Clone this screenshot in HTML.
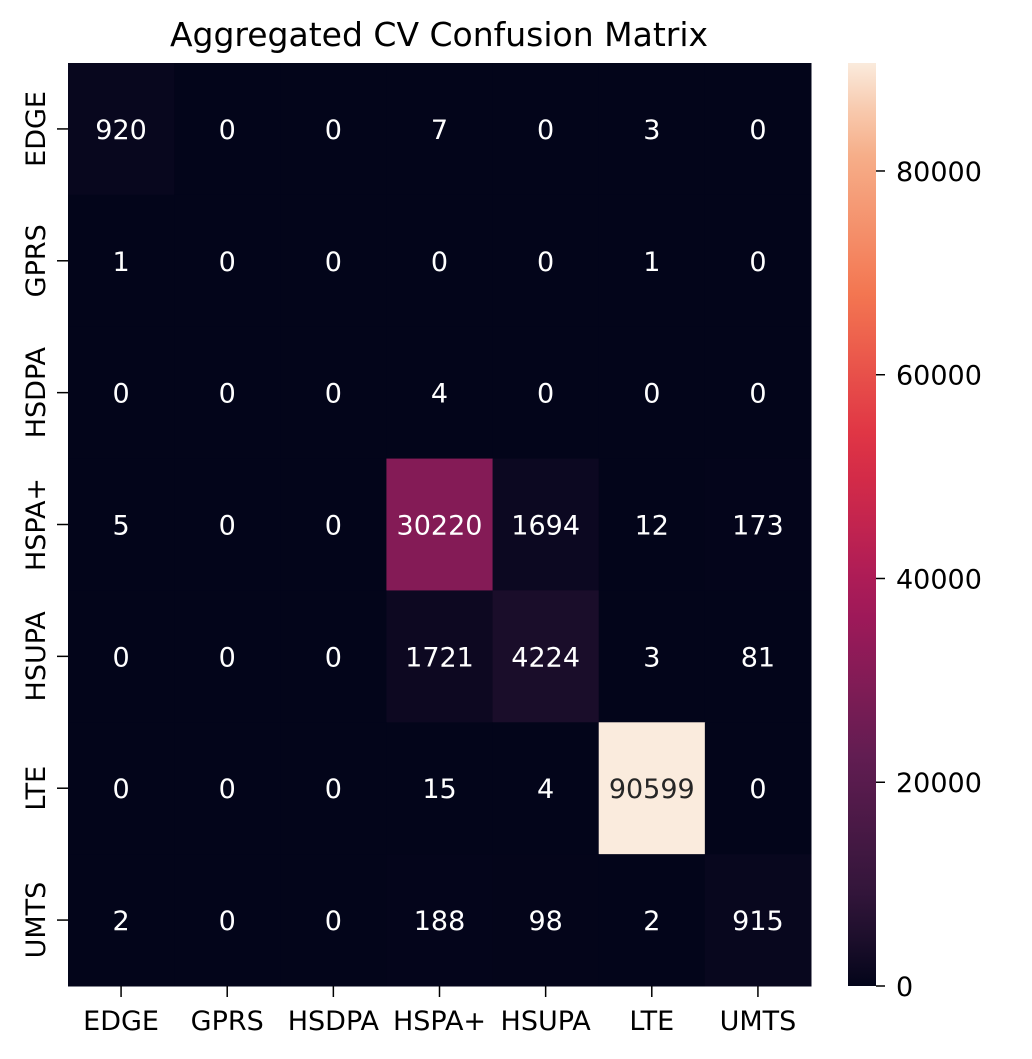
<!DOCTYPE html>
<html><head><meta charset="utf-8"><style>
body{margin:0;background:#fff;}
svg text{font-family:"DejaVu Sans","Liberation Sans",sans-serif;}
</style></head><body>
<svg id="chart" width="1032" height="1054" xmlns="http://www.w3.org/2000/svg">
<defs><linearGradient id="cbgrad" x1="0" y1="1" x2="0" y2="0"></linearGradient></defs>
<text x="439" y="46" font-size="33" text-anchor="middle" fill="#000">Aggregated CV Confusion Matrix</text>
<g id="cells"></g><g id="axes"></g>
</svg>
<script>
const rowLabels=["EDGE","GPRS","HSDPA","HSPA+","HSUPA","LTE","UMTS"];
const colLabels=["EDGE","GPRS","HSDPA","HSPA+","HSUPA","LTE","UMTS"];
const matrix=[
[920,0,0,7,0,3,0],
[1,0,0,0,0,1,0],
[0,0,0,4,0,0,0],
[5,0,0,30220,1694,12,173],
[0,0,0,1721,4224,3,81],
[0,0,0,15,4,90599,0],
[2,0,0,188,98,2,915]];
const cbTicks=[0,20000,40000,60000,80000];
const vmax=90599;
const L=68,R=811,T=63,B=986;
const cw=(R-L)/colLabels.length, rh=(B-T)/rowLabels.length;
const stops=[[0,[3,5,26]],[1/12,[45,20,55]],[3/12,[98,29,82]],[5/12,[165,25,90]],[7/12,[222,47,68]],[9/12,[243,118,81]],[11/12,[246,180,143]],[1,[250,235,221]]];
function cmap(t){t=Math.max(0,Math.min(1,t));for(let i=1;i<stops.length;i++){if(t<=stops[i][0]){const a=stops[i-1],b=stops[i];const f=(t-a[0])/(b[0]-a[0]);const c=a[1].map((v,k)=>Math.round(v+(b[1][k]-v)*f));return c;}}return stops[stops.length-1][1];}
const NS="http://www.w3.org/2000/svg";
function mk(tag,attrs,parent,txt){const e=document.createElementNS(NS,tag);for(const k in attrs)e.setAttribute(k,attrs[k]);if(txt!==undefined)e.textContent=txt;parent.appendChild(e);return e;}
const cells=document.getElementById('cells'),axes=document.getElementById('axes');
matrix.forEach((row,i)=>row.forEach((v,j)=>{
 const c=cmap(v/vmax);
 const r=mk('rect',{x:L+j*cw,y:T+i*rh,width:cw+0.5,height:rh+0.5,fill:`rgb(${c})`},cells);
 
 
 const lum=0.299*c[0]+0.587*c[1]+0.114*c[2];
 const t=mk('text',{x:L+(j+0.5)*cw,y:T+(i+0.5)*rh+10,'font-size':27,'text-anchor':'middle',fill:lum>128?'#262626':'#fff'},cells,String(v));
 
 
}));
rowLabels.forEach((l,i)=>{
 const y=T+(i+0.5)*rh;
 mk('line',{x1:L-11,x2:L,y1:y,y2:y,stroke:'#000','stroke-width':1.5},axes);
 const t=mk('text',{x:0,y:0,'font-size':27,'text-anchor':'middle',transform:`translate(45,${y}) rotate(-90)`},axes,l);
 
 
});
colLabels.forEach((l,j)=>{
 const x=L+(j+0.5)*cw;
 mk('line',{x1:x,x2:x,y1:B,y2:B+11,stroke:'#000','stroke-width':1.5},axes);
 const t=mk('text',{x:x,y:B+44,'font-size':27,'text-anchor':'middle'},axes,l);
 
 
});
const grad=document.getElementById('cbgrad');
for(let k=0;k<=20;k++){mk('stop',{offset:k/20,'stop-color':`rgb(${cmap(k/20)})`},grad);}
const CX=848,CW=28;
const cb=mk('rect',{x:CX,y:T,width:CW,height:B-T,fill:'url(#cbgrad)'},axes);


cbTicks.forEach(v=>{
 const y=B-(v/vmax)*(B-T);
 mk('line',{x1:CX+CW,x2:CX+CW+9,y1:y,y2:y,stroke:'#000','stroke-width':1.5},axes);
 const t=mk('text',{x:CX+CW+20,y:y+10,'font-size':27},axes,String(v));
 
 
});
</script>
</body></html>
